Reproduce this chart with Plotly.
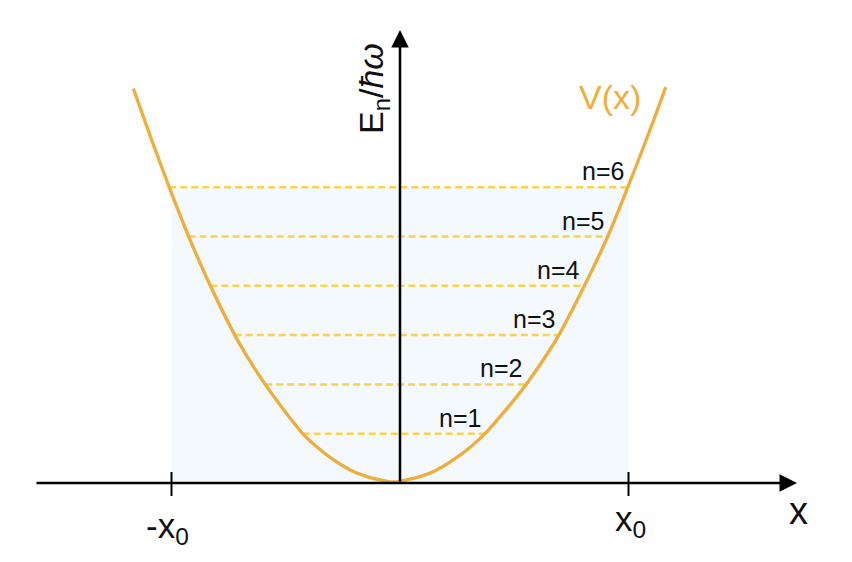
import plotly.graph_objects as go

# ---- data (x in units of x0, energy in level units) ----
curve_x = [-1.167, -1.09, -1.01, -0.925, -0.83, -0.723, -0.659, -0.59, -0.52, -0.48,
           -0.426, -0.365, -0.29, -0.218, -0.145, -0.071, -0.03, 0.013, 0.0875,
           0.161, 0.233, 0.31, 0.372, 0.431, 0.475, 0.552, 0.626, 0.695, 0.807,
           0.909, 0.997, 1.081, 1.163]
curve_v = [8.0, 7.0, 6.0, 5.0, 4.0, 3.0, 2.49, 2.0, 1.55, 1.31,
           1.0, 0.736, 0.467, 0.264, 0.128, 0.05, 0.02, 0.05, 0.128,
           0.264, 0.467, 0.736, 1.0, 1.31, 1.55, 2.0, 2.49, 3.0, 4.0,
           5.0, 6.0, 7.0, 8.03]

levels_n = [1, 2, 3, 4, 5, 6]
level_e = [1, 2, 3, 4, 5, 6]
level_left = [-0.426, -0.59, -0.723, -0.83, -0.925, -1.01]
level_right = [0.372, 0.552, 0.695, 0.807, 0.909, 0.997]

x0_ticks = [-1.0, 1.0]
x0_labels = ["-x<sub>0</sub>", "x<sub>0</sub>"]

# ---- styles ----
ORANGE = "#EFAE3B"
DASH = "#F7D34E"
FILL = "#F4F9FD"
FONT = "Liberation Sans, Arial, Helvetica, sans-serif"
TXT = "#111111"

# page-pixel -> data helpers (page is offset 8px by the body margin)
PX_PER_X = 228.5
PX_PER_Y = 49.3
CX, CY = 400, 483
OFF = 8
def X(px): return (px - CX) / PX_PER_X
def Y(py): return (CY - py) / PX_PER_Y

fig = go.Figure()

# dashed energy levels
for e, l, r in zip(level_e, level_left, level_right):
    fig.add_trace(go.Scatter(x=[l, r], y=[e, e], mode="lines",
                             line=dict(color=DASH, width=2.5, dash="7px,4px"),
                             hoverinfo="skip", showlegend=False))

# potential curve
fig.add_trace(go.Scatter(x=curve_x, y=curve_v, mode="lines",
                         line=dict(color=ORANGE, width=3.3, shape="spline", smoothing=1.0,
                                   simplify=False),
                         hoverinfo="skip", showlegend=False))

shapes = []
shapes.append(dict(type="rect", xref="x", yref="y", x0=x0_ticks[0], x1=x0_ticks[1],
                   y0=0, y1=max(level_e), fillcolor=FILL, line=dict(width=0), layer="below"))
for t in x0_ticks:
    shapes.append(dict(type="line", xref="x", yref="y", x0=t, x1=t, y0=Y(472), y1=Y(496),
                       line=dict(color="black", width=2)))

annotations = []
annotations.append(dict(x=X(797), y=0, ax=X(35), ay=0, xref="x", yref="y", axref="x", ayref="y",
                        showarrow=True, arrowhead=2, arrowsize=1.4, arrowwidth=2.5,
                        arrowcolor="black", standoff=0, startstandoff=0, text=""))
annotations.append(dict(x=0, y=Y(30), ax=0, ay=0, xref="x", yref="y", axref="x", ayref="y",
                        showarrow=True, arrowhead=2, arrowsize=1.4, arrowwidth=2.5,
                        arrowcolor="black", standoff=0, startstandoff=0, text=""))

for n, e, r in zip(levels_n, level_e, level_right):
    annotations.append(dict(x=r, y=e, xref="x", yref="y", text=f"n={n}", showarrow=False,
                            xanchor="right", yanchor="middle", xshift=-2, yshift=16,
                            font=dict(family=FONT, size=25, color=TXT)))

annotations.append(dict(x=X(167), y=Y(528), xref="x", yref="y", text=x0_labels[0],
                        showarrow=False, font=dict(family=FONT, size=35, color=TXT)))
annotations.append(dict(x=X(630), y=Y(521), xref="x", yref="y", text=x0_labels[1],
                        showarrow=False, font=dict(family=FONT, size=35, color=TXT)))
annotations.append(dict(x=X(798), y=Y(511), xref="x", yref="y", text="x",
                        showarrow=False, font=dict(family=FONT, size=38, color=TXT)))
annotations.append(dict(x=X(373), y=Y(89), xref="x", yref="y", text="E<sub>n</sub>/<i>ħω</i>",
                        textangle=-90, showarrow=False,
                        font=dict(family=FONT, size=34, color=TXT)))
annotations.append(dict(x=X(610), y=Y(97), xref="x", yref="y", text="V(x)",
                        showarrow=False, font=dict(family=FONT, size=34, color=ORANGE)))

fig.update_layout(
    width=852, height=562,
    margin=dict(l=0, r=0, t=0, b=0),
    paper_bgcolor="white", plot_bgcolor="white",
    xaxis=dict(range=[X(OFF), X(852 + OFF)], visible=False, fixedrange=True),
    yaxis=dict(range=[Y(562 + OFF), Y(OFF)], visible=False, fixedrange=True),
    shapes=shapes, annotations=annotations, showlegend=False,
)

fig.write_html("out.html")
